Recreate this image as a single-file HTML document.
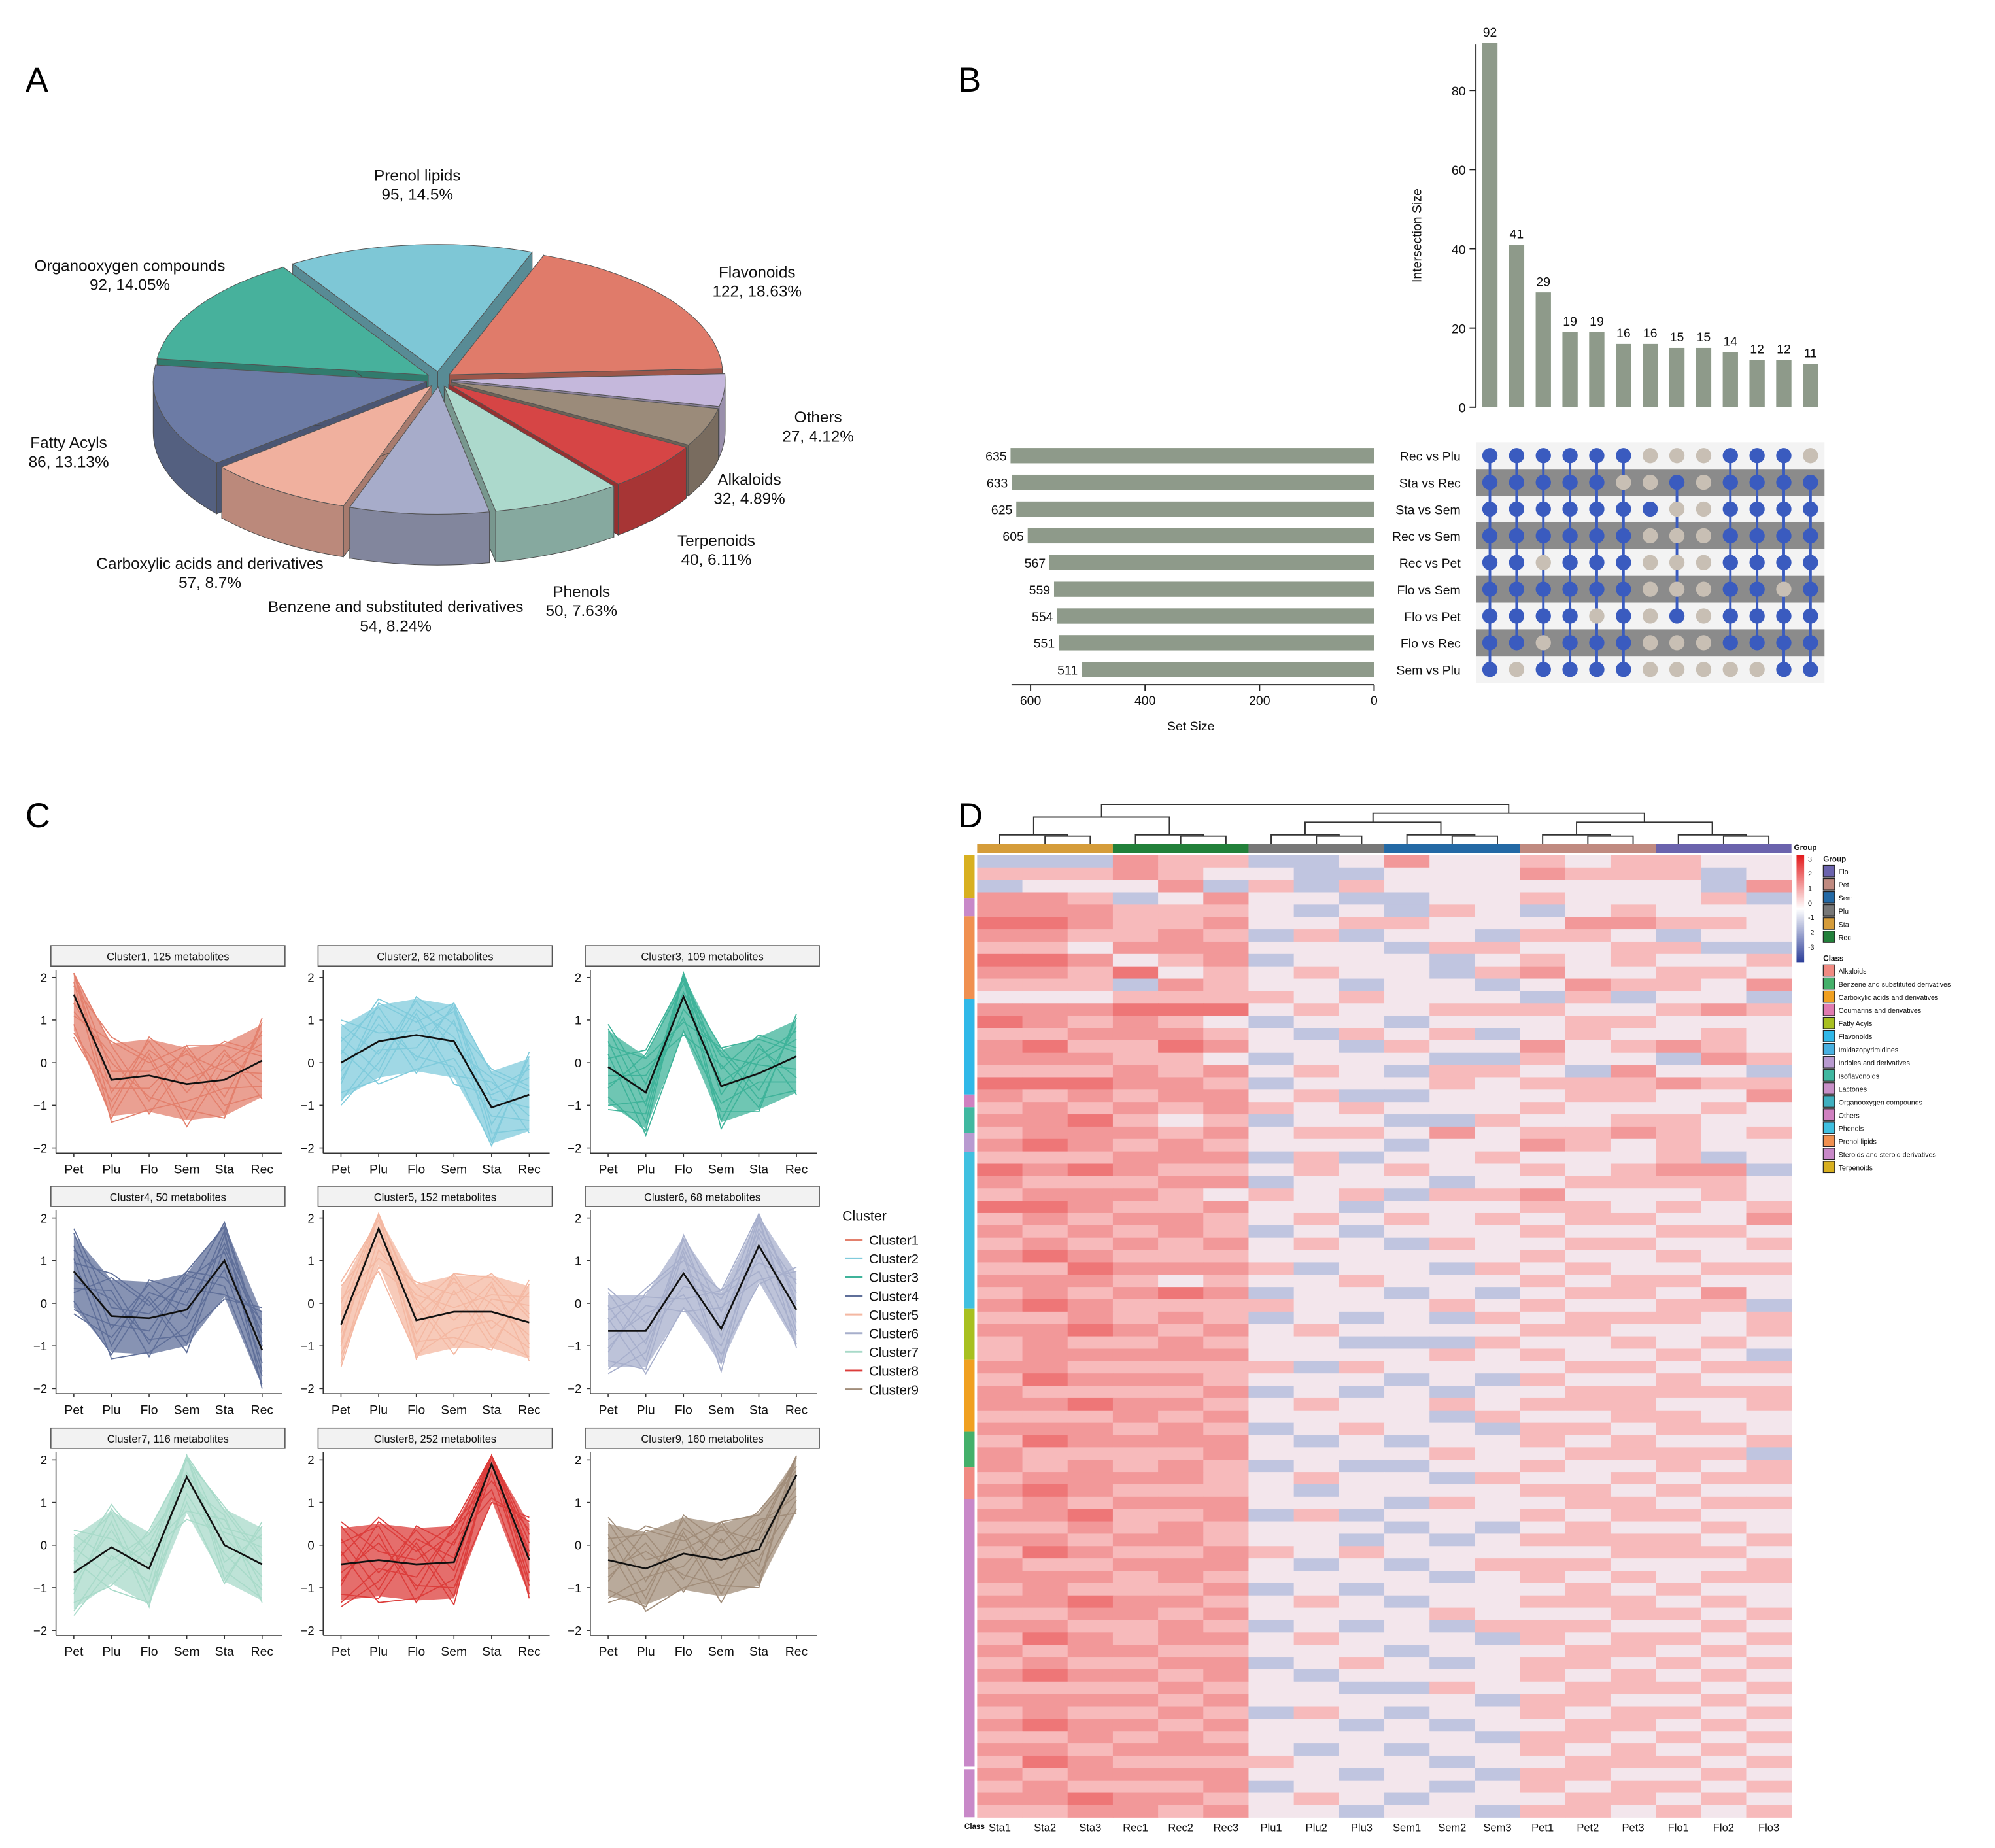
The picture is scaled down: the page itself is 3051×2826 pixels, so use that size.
<!DOCTYPE html>
<html><head><meta charset="utf-8"><style>
html,body{margin:0;padding:0;background:#fff}
svg{display:block;font-family:"Liberation Sans",Arial,sans-serif}
</style></head><body>
<svg id="fig" width="3051" height="2826" viewBox="0 0 1568 1452" preserveAspectRatio="none" xmlns="http://www.w3.org/2000/svg">
<rect width="1568" height="1452" fill="#fff"/>
<text x="20" y="72" font-size="27">A</text>
<text x="753" y="72" font-size="27">B</text>
<text x="20" y="650" font-size="27">C</text>
<text x="753" y="650" font-size="27">D</text>
</svg>
<script>
// ---------- Panel A data ----------
const pieNames=["Prenol lipids","Flavonoids","Others","Alkaloids","Terpenoids","Phenols","Benzene and substituted derivatives","Carboxylic acids and derivatives","Fatty Acyls","Organooxygen compounds"];
const pieValues=[95,122,27,32,40,50,54,57,86,92];
const piePct=["14.5%","18.63%","4.12%","4.89%","6.11%","7.63%","8.24%","8.7%","13.13%","14.05%"];
// ---------- Panel B data ----------
const interSizes=[92,41,29,19,19,16,16,15,15,14,12,12,11];
const setNames=["Rec vs Plu","Sta vs Rec","Sta vs Sem","Rec vs Sem","Rec vs Pet","Flo vs Sem","Flo vs Pet","Flo vs Rec","Sem vs Plu"];
const setSizes=[635,633,625,605,567,559,554,551,511];
const interTicks=[0,20,40,60,80];
const setTicks=[600,400,200,0];
const matrix=[
"1111110001110",
"1111100101111",
"1111111001111",
"1111110001111",
"1101110001111",
"1111110001101",
"1111010101111",
"1101110001111",
"1011110000011"];
// ---------- Panel C data ----------
const stages=["Pet","Plu","Flo","Sem","Sta","Rec"];
const clusterCounts=[125,62,109,50,152,68,116,252,160];
const clusterMeans=[
[1.6,-0.4,-0.3,-0.5,-0.4,0.05],
[0,0.5,0.65,0.5,-1.05,-0.75],
[-0.1,-0.7,1.55,-0.55,-0.25,0.15],
[0.75,-0.3,-0.35,-0.15,1.0,-1.1],
[-0.5,1.75,-0.4,-0.2,-0.2,-0.45],
[-0.65,-0.65,0.7,-0.6,1.35,-0.15],
[-0.65,-0.05,-0.55,1.6,0,-0.45],
[-0.45,-0.35,-0.45,-0.4,1.9,-0.35],
[-0.35,-0.55,-0.2,-0.35,-0.1,1.65]];
const devPatterns=[
[0.5,0.8,-0.6,0.9,-0.4,0.7],[-0.7,-0.9,0.5,-0.8,0.6,-0.5],[0.9,-0.3,0.8,-0.2,0.7,-0.9],
[-0.4,0.6,-0.9,0.5,-0.8,0.9],[0.2,1.0,0.4,-1.0,0.3,0.4],[-0.9,-0.2,-0.3,0.8,-0.6,-0.8],
[0.6,-0.7,0.9,0.4,0.9,0.2],[-0.2,0.4,-0.5,-0.6,-0.9,1.0],[1.0,0.2,0.1,0.7,0.2,-0.3],
[-1.0,-0.5,0.6,0.1,0.4,0.6],[0.3,-1.0,-0.8,-0.4,-0.2,-0.6],[-0.5,0.9,0.3,0.9,0.8,0.1]];
const yTicksC=[2,1,0,-1,-2];
// ---------- Panel D data ----------
const groups=["Sta","Rec","Plu","Sem","Pet","Flo"];
const sampleLabels=["Sta1","Sta2","Sta3","Rec1","Rec2","Rec3","Plu1","Plu2","Plu3","Sem1","Sem2","Sem3","Pet1","Pet2","Pet3","Flo1","Flo2","Flo3"];
const legendGroups=["Flo","Pet","Sem","Plu","Sta","Rec"];
const classNames=["Alkaloids","Benzene and substituted derivatives","Carboxylic acids and derivatives","Coumarins and derivatives","Fatty Acyls","Flavonoids","Imidazopyrimidines","Indoles and derivatives","Isoflavonoids","Lactones","Organooxygen compounds","Others","Phenols","Prenol lipids","Steroids and steroid derivatives","Terpenoids"];
const heatRows=[
"333655334644545544","555654433444655534","344463535444444436","665346443344544453","666555434354345444",
"776556445544466554","665565353443554344","554666444355445533","776456344434545445","665745454435644554",
"555365443443465546","444555545444353443","666777454455544565","765654344344455444","556665435453454454",
"675576443544645654","666554344433544365","555656454355436443","777665344454555655","656566453344455446",
"565656545444544454","667545344335445544","566656455464556545","676565444344654544","555666353445444534",
"767655454544545663","655566344434455554","566654545355644454","776556443444554545","565665454545455446",
"656565343444544554","565656454354455445","676555444444544544","557666534435454455","666545445444545544",
"565676344343455464","676555544454544553","556565343435455545","667656454444554445","565565443335445454",
"566666444454544543","665555535444455455","576665444343544544","655556343434455555","667665454454555445",
"555656444435445544","666565345443554554","576666434344545445","655556444454455553","656565343344544545",
"566665454435445455","676555434444554544","565666444354455455","667556353444545544","556565444343454454",
"665665443434555545","576556545444445554","655666434345554445","666565444434545455","565556343444454544",
"667665454344555454","556656444454445545","665565343435554454","576566454443545545","656655444344455454",
"565566345434554545","676656434444545454","555565443354455545","666656444443554454","565565354344545545",
"676656443434455454","556565444443554545","665666434344545454","576555544434455545","656666443443554454",
"565556344434545545","667665454344455454","556656443443554545"];

const NS="http://www.w3.org/2000/svg";
const svg=document.getElementById('fig');
function mk(tag,attrs,parent){const e=document.createElementNS(NS,tag);for(const k in attrs)e.setAttribute(k,attrs[k]);(parent||svg).appendChild(e);return e;}
function txt(x,y,s,size,anchor,parent,extra){const t=mk('text',Object.assign({x:x,y:y,'font-size':size,'text-anchor':anchor||'start',fill:'#111'},extra||{}),parent);t.textContent=s;return t;}

// ================= Panel A: 3D pie =================
(function(){
 const g=mk('g',{});
 
 
 const cols=["#7ec7d6","#e07b6a","#c5b8dc","#9b8b7a","#d64545","#acd9cc","#a7acca","#f0b09e","#6c7ba5","#47b19c"];
 const cx=345,cy=298,rx=215,ry=100,d=40,ex=10;
 const total=pieValues.reduce((a,b)=>a+b,0);
 let a=-122;const sl=[];
 pieValues.forEach((v,i)=>{const a2=a+v/total*360;sl.push({i:i,a1:a,a2:a2,m:(a+a2)/2});a=a2;});
 const R=Math.PI/180;
 sl.sort((p,q)=>Math.sin(p.m*R)-Math.sin(q.m*R));
 sl.forEach(s=>{
  const ox=cx+ex*Math.cos(s.m*R), oy=cy+ex*0.6*Math.sin(s.m*R);
  const P=(ang,dz)=>[ox+rx*Math.cos(ang*R),oy+ry*Math.sin(ang*R)+dz];
  const sg=mk('g',{},g);
  
  
  const col=cols[s.i];
  [s.a1,s.a2].forEach(an=>{const p=P(an,0),q=P(an,d);
   mk('path',{d:`M${ox},${oy}L${p[0]},${p[1]}L${q[0]},${q[1]}L${ox},${oy+d}Z`,fill:col,stroke:'#555','stroke-width':0.5},sg);
   mk('path',{d:`M${ox},${oy}L${p[0]},${p[1]}L${q[0]},${q[1]}L${ox},${oy+d}Z`,fill:'#000','fill-opacity':0.3},sg);});
  const segs=[[0,180],[360,540]];
  segs.forEach(([lo,hi])=>{const s1=Math.max(s.a1,lo),s2=Math.min(s.a2,hi);if(s2>s1){
   const p1=P(s1,0),p2=P(s2,0),p3=P(s2,d),p4=P(s1,d);
   const dd=`M${p1[0]},${p1[1]}A${rx},${ry} 0 0 1 ${p2[0]},${p2[1]}L${p3[0]},${p3[1]}A${rx},${ry} 0 0 0 ${p4[0]},${p4[1]}Z`;
   mk('path',{d:dd,fill:col,stroke:'#555','stroke-width':0.5},sg);
   mk('path',{d:dd,fill:'#000','fill-opacity':0.22},sg);}});
  const p1=P(s.a1,0),p2=P(s.a2,0);const large=(s.a2-s.a1)>180?1:0;
  mk('path',{d:`M${ox},${oy}L${p1[0]},${p1[1]}A${rx},${ry} 0 ${large} 1 ${p2[0]},${p2[1]}Z`,fill:col,stroke:'#555','stroke-width':0.5},sg);
 });
 const lp=[[328,142],[595,218],[643,332],[589,381],[563,429],[457,469],[311,481],[165,447],[54,352],[102,213]];
 pieNames.forEach((n,i)=>{
  const t=txt(lp[i][0],lp[i][1],n,12.5,'middle');
  
  
  const t2=txt(lp[i][0],lp[i][1]+15,pieValues[i]+', '+piePct[i],12.5,'middle');
  
  
 });
})();

// ================= Panel B: UpSet =================
(function(){
 const g=mk('g',{});
 
 
 const colX=i=>1171+i*21.0;
 const yI=v=>320-v*3.1125;
 const rowY=j=>358+j*21;
 const xS=v=>1080-v*0.45;
 mk('line',{x1:1160,y1:35,x2:1160,y2:320,stroke:'#222','stroke-width':1},g);
 interTicks.forEach(t=>{mk('line',{x1:1155,y1:yI(t),x2:1160,y2:yI(t),stroke:'#222'},g);
  const tt=txt(1152,yI(t)+4,String(t),10,'end',g);
  
  });
 const yt=txt(0,0,'Intersection Size',10,'middle',g,{transform:'translate(1117,185) rotate(-90)'});
 
 
 interSizes.forEach((v,i)=>{
  const b=mk('rect',{x:colX(i)-6,y:yI(v),width:12,height:320-yI(v),fill:'#8e9a8a'},g);
  
  
  const l=txt(colX(i),yI(v)-5,String(v),10,'middle',g);
  
  
 });
 setNames.forEach((n,j)=>{
  mk('rect',{x:1160,y:rowY(j)-10.5,width:274,height:21,fill:j%2?'#8b8b8b':'#f3f3f3'},g);
  const l=txt(1148,rowY(j)+4,n,10,'end',g);
  
  
  const b=mk('rect',{x:xS(setSizes[j]),y:rowY(j)-6,width:1080-xS(setSizes[j]),height:12,fill:'#8e9a8a'},g);
  
  
  const v=txt(xS(setSizes[j])-3,rowY(j)+4,String(setSizes[j]),10,'end',g);
  
  
 });
 for(let i=0;i<interSizes.length;i++){
  let mn=99,mx=-1;
  for(let j=0;j<setNames.length;j++) if(matrix[j][i]==='1'){mn=Math.min(mn,j);mx=Math.max(mx,j);}
  if(mx>mn) mk('line',{x1:colX(i),y1:rowY(mn),x2:colX(i),y2:rowY(mx),stroke:'#3a5bbf','stroke-width':2},g);
  for(let j=0;j<setNames.length;j++){
   const on=matrix[j][i]==='1';
   const c=mk('circle',{cx:colX(i),cy:rowY(j),r:6,fill:on?'#3a5bbf':'#c8bfb4'},g);
   
   
  }
 }
 mk('line',{x1:795,y1:538,x2:1080,y2:538,stroke:'#222'},g);
 setTicks.forEach(t=>{mk('line',{x1:xS(t),y1:538,x2:xS(t),y2:543,stroke:'#222'},g);
  const l=txt(xS(t),554,String(t),10,'middle',g);
  
  });
 const xt=txt(936,574,'Set Size',10,'middle',g);
 
 
})();

// ================= Panel C: cluster profiles =================
(function(){
 const cols=["#e3806d","#80cbdc","#3fb39a","#5f6f99","#f4b8a2","#a7afcc","#a8dac9","#dc3d3b","#a18d7a"];
 const colX0=[44,254,464], rowY0=[743,932,1122];
 for(let k=0;k<9;k++){
  const g=mk('g',{});
  
  
  const x0=colX0[k%3], s0=rowY0[Math.floor(k/3)];
  const X=i=>x0+14+i*29.6;
  const Y=v=>s0+92-v*33.5;
  const st=mk('rect',{x:x0-4,y:s0,width:184,height:16,fill:'#f2f2f2',stroke:'#555','stroke-width':0.8},g);
  
  
  const stt=txt(x0+88,s0+11.5,'Cluster'+(k+1)+', '+clusterCounts[k]+' metabolites',8.5,'middle',g);
  
  
  mk('line',{x1:x0,y1:s0+19,x2:x0,y2:s0+163,stroke:'#333','stroke-width':0.8},g);
  mk('line',{x1:x0,y1:s0+163,x2:x0+178,y2:s0+163,stroke:'#333','stroke-width':0.8},g);
  yTicksC.forEach(t=>{mk('line',{x1:x0-3,y1:Y(t),x2:x0,y2:Y(t),stroke:'#333','stroke-width':0.8},g);
   const l=txt(x0-7,Y(t)+3.5,t<0?'−'+(-t):String(t),9.5,'end',g);
   
   });
  stages.forEach((s,i)=>{mk('line',{x1:X(i),y1:s0+163,x2:X(i),y2:s0+166,stroke:'#333','stroke-width':0.8},g);
   const l=txt(X(i),s0+179,s,10,'middle',g);
   
   });
  const m=clusterMeans[k];
  let up=m.map((v,i)=>X(i)+','+Y(Math.min(2.05,v+0.85))).join(' ');
  let dn=m.map((v,i)=>X(i)+','+Y(Math.max(-2,v-0.85))).reverse().join(' ');
  const band=mk('polygon',{points:up+' '+dn,fill:cols[k],'fill-opacity':0.75},g);
  
  
  devPatterns.forEach(dp=>{
   const pts=m.map((v,i)=>X(i)+','+Y(Math.max(-2,Math.min(2.1,v+dp[i]*1.0)))).join(' ');
   const pl=mk('polyline',{points:pts,fill:'none',stroke:cols[k],'stroke-width':0.9},g);
   
   
  });
  const mean=mk('polyline',{points:m.map((v,i)=>X(i)+','+Y(v)).join(' '),fill:'none',stroke:'#111','stroke-width':1.4},g);
  
  
 }
 const lg=mk('g',{});
 
 
 txt(662,959,'Cluster',11,'start',lg);
 for(let k=0;k<9;k++){
  const y=974+k*14.7;
  const e=mk('line',{x1:664,y1:y,x2:678,y2:y,stroke:cols[k],'stroke-width':1.5},lg);
  
  
  txt(683,y+4,'Cluster'+(k+1),10.5,'start',lg);
 }
})();

// ================= Panel D: heatmap =================
(function(){
 const g=mk('g',{});
 
 
 const x0=768,x1=1408,y0=672,y1=1428;
 const cw=(x1-x0)/18, rh=(y1-y0)/heatRows.length;
 const red=[227,26,28], blue=[44,62,153];
 function col(dg){const v=(dg-4)/4;
  if(v===0) return '#f3e6ec';
  const c=v>0?red:blue;const a=Math.min(1,0.15+Math.abs(v)*0.6);
  return 'rgb('+[0,1,2].map(i=>Math.round(255+(c[i]-255)*a)).join(',')+')';}
 heatRows.forEach((r,j)=>{for(let i=0;i<18;i++){
  const c=mk('rect',{x:x0+i*cw,y:y0+j*rh,width:cw+0.3,height:rh+0.3,fill:col(+r[i])},g);
  
  
 }});
 const gcols={Sta:'#d59c3a',Rec:'#22803a',Plu:'#777777',Sem:'#2369a5',Pet:'#c08a80',Flo:'#6b63ad'};
 groups.forEach((gr,k)=>{const r=mk('rect',{x:x0+k*3*cw,y:663,width:3*cw,height:7,fill:gcols[gr]},g);
  
  });
 const dg=mk('g',{stroke:'#333','stroke-width':1,fill:'none'},g);
 
 
 const cx=i=>x0+(i+0.5)*cw;
 function U(xa,ya,xb,yb,yt){mk('path',{d:`M${xa},${ya}V${yt}H${xb}V${yb}`},dg);}
 const gnode=[];
 for(let k=0;k<6;k++){const a=cx(3*k),b=cx(3*k+1),c=cx(3*k+2);const m23=(b+c)/2;
  U(b,663,c,663,657);U(a,663,m23,657,656);gnode.push((a+m23)/2);}
 const n01=(gnode[0]+gnode[1])/2;U(gnode[0],656,gnode[1],656,642);
 const n23=(gnode[2]+gnode[3])/2;U(gnode[2],656,gnode[3],656,646);
 const n45=(gnode[4]+gnode[5])/2;U(gnode[4],656,gnode[5],656,646);
 const nR=(n23+n45)/2;U(n23,646,n45,646,639);
 U(n01,642,nR,639,632);
 const clsSeg=[[672,706,'#d8b020'],[706,720,'#c888c8'],[720,785,'#f09050'],[785,860,'#30b8e8'],[860,870,'#d080c0'],[870,890,'#40b8a0'],[890,905,'#b89ad0'],[905,1028,'#40c0e0'],[1028,1068,'#a8c020'],[1068,1125,'#f0a020'],[1125,1153,'#44b06a'],[1153,1178,'#f08a82'],[1178,1388,'#c888c8'],[1390,1428,'#c888c8']];
 clsSeg.forEach(s=>{const r=mk('rect',{x:758,y:s[0],width:8,height:s[1]-s[0],fill:s[2]},g);
  
  });
 sampleLabels.forEach((s,i)=>{const t=txt(cx(i),1439,s,8.5,'middle',g);
  
  });
 const cl=txt(758,1437,'Class',6,'start',g,{'font-weight':'bold'});
 
 
 const lg=mk('g',{},g);
 
 
 const defs=mk('defs',{},svg);
 const grad=mk('linearGradient',{id:'hg',x1:0,y1:0,x2:0,y2:1},defs);
 mk('stop',{offset:'0','stop-color':'#e31a1c'},grad);mk('stop',{offset:'0.5','stop-color':'#ffffff'},grad);mk('stop',{offset:'1','stop-color':'#2c3e99'},grad);
 const cb=mk('rect',{x:1412,y:672,width:6,height:84,fill:'url(#hg)'},lg);
 
 
 txt(1410,668,'Group',6,'start',lg,{'font-weight':'bold'});
 [3,2,1,0,-1,-2,-3].forEach((v,i)=>txt(1421,677+i*11.5,String(v),5.5,'start',lg));
 txt(1433,677,'Group',6,'start',lg,{'font-weight':'bold'});
 legendGroups.forEach((gr,i)=>{const y=680+i*10.3;
  const r=mk('rect',{x:1433,y:y,width:9,height:9,fill:gcols[gr],stroke:'#222','stroke-width':0.6},lg);
  
  
  txt(1445,y+7,gr,5.5,'start',lg);});
 txt(1433,755,'Class',6,'start',lg,{'font-weight':'bold'});
 const ccols=['#f08a82','#44b06a','#f0a020','#e07ab0','#a8c020','#30b8e8','#48b0e0','#b89ad0','#40b8a0','#c890c8','#40b0c0','#d080c0','#40c0e0','#f09050','#c888c8','#d8b020'];
 classNames.forEach((c,i)=>{const y=758+i*10.3;
  const r=mk('rect',{x:1433,y:y,width:9,height:9,fill:ccols[i],stroke:'#222','stroke-width':0.6},lg);
  
  
  txt(1445,y+7,c,5.5,'start',lg);});
})();
</script>
</body></html>
